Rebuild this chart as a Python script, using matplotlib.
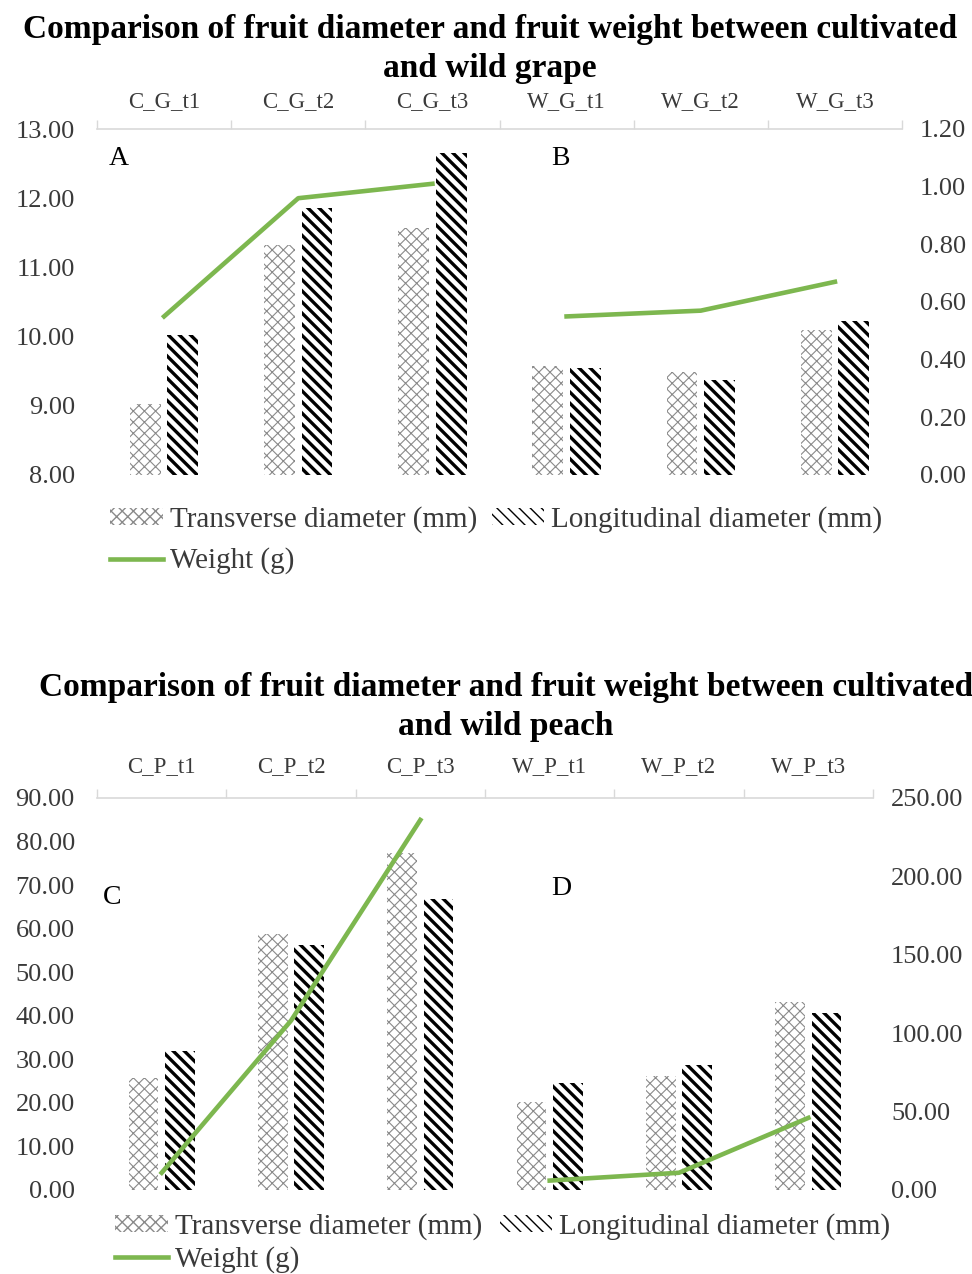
import matplotlib.pyplot as plt
import numpy as np

plt.rcParams['font.family'] = ['Liberation Serif', 'DejaVu Serif']

# grape panel (A: cultivated, B: wild)
grape_cats = ['C_G_t1', 'C_G_t2', 'C_G_t3', 'W_G_t1', 'W_G_t2', 'W_G_t3']
grape_trans = [9.03, 11.33, 11.57, 9.57, 9.49, 10.10]
grape_long = [10.02, 11.86, 12.65, 9.55, 9.37, 10.22]
grape_w_cult = [0.55, 0.96, 1.01]
grape_w_wild = [0.55, 0.57, 0.67]

# peach panel (C: cultivated, D: wild)
peach_cats = ['C_P_t1', 'C_P_t2', 'C_P_t3', 'W_P_t1', 'W_P_t2', 'W_P_t3']
peach_trans = [25.8, 58.8, 77.3, 20.3, 26.2, 43.1]
peach_long = [31.8, 56.2, 66.8, 24.6, 28.8, 40.6]
peach_w_cult = [11, 108, 236]
peach_w_wild = [6, 11, 46]

GREEN = '#7db74f'
GRID = '#d9d9d9'
TXT = '#3a3a3a'
W, H = 972, 1274


def set_hatch_lw(patches, lw):
    for p in patches:
        if hasattr(p, 'set_hatch_linewidth'):
            p.set_hatch_linewidth(lw)


def draw_panel(fig, rect, cats, trans, longi, w_cult, w_wild,
               yticks, yticks2, letters, cat_pad):
    ax = fig.add_axes(rect)
    x = np.arange(len(cats))
    b1 = ax.bar(x - 0.14, trans, 0.23, color='white', edgecolor='#8a8a8a',
                hatch='xxx', linewidth=0, label='Transverse diameter (mm)')
    b2 = ax.bar(x + 0.14, longi, 0.23, color='white', edgecolor='black',
                hatch='\\\\\\', linewidth=0, label='Longitudinal diameter (mm)')
    set_hatch_lw(b1, 0.8)
    set_hatch_lw(b2, 2.4)

    ax2 = ax.twinx()
    line, = ax2.plot(x[:3], w_cult, color=GREEN, lw=3.3, label='Weight (g)')
    ax2.plot(x[3:], w_wild, color=GREEN, lw=3.3)

    ax.set_xlim(-0.5, len(cats) - 0.5)
    ax.set_ylim(yticks[0], yticks[-1])
    ax2.set_ylim(yticks2[0], yticks2[-1])
    ax.set_yticks(yticks)
    ax.set_yticklabels([f'{v:.2f}' for v in yticks])
    ax2.set_yticks(yticks2)
    ax2.set_yticklabels([f'{v:.2f}' for v in yticks2])

    for a in (ax, ax2):
        for s in ('left', 'right', 'bottom', 'top'):
            a.spines[s].set_visible(False)
    ax.spines['top'].set_visible(True)
    ax.spines['top'].set_color(GRID)
    ax.spines['top'].set_linewidth(1.2)

    ax.xaxis.tick_top()
    ax.set_xticks(x)
    ax.set_xticklabels(cats)
    ax.set_xticks(np.arange(-0.5, len(cats), 1), minor=True)
    ax.tick_params(axis='x', which='major', length=0, pad=cat_pad,
                   labelsize=16.5, labelcolor=TXT)
    ax.tick_params(axis='x', which='minor', length=6.5, width=1, color=GRID)
    ax.tick_params(axis='y', length=0, pad=16, labelsize=19, labelcolor=TXT)
    ax2.tick_params(axis='y', length=0, pad=13, labelsize=19, labelcolor=TXT)

    for txt, lx, ly in letters:
        ax.text(lx, ly, txt, transform=ax.transAxes, fontsize=20,
                ha='left', va='center', color='black')
    return b1, b2, line


fig = plt.figure(figsize=(W / 100, H / 100), dpi=100)

# top figure: grape
fig.text(490 / W, 1 - 49 / H,
         'Comparison of fruit diameter and fruit weight between cultivated\nand wild grape',
         ha='center', va='center', fontsize=24, fontweight='bold', linespacing=1.32)
b1, b2, line = draw_panel(
    fig, [97 / W, 1 - 475 / H, 805 / W, 346 / H],
    grape_cats, grape_trans, grape_long, grape_w_cult, grape_w_wild,
    [8, 9, 10, 11, 12, 13], [0, 0.2, 0.4, 0.6, 0.8, 1.0, 1.2],
    [('A', 0.014, 0.916), ('B', 0.564, 0.916)], cat_pad=12)
fig.legend([b1, line, b2],
           ['Transverse diameter (mm)', 'Weight (g)', 'Longitudinal diameter (mm)'],
           ncol=2, loc='upper left', bbox_to_anchor=(110 / W, 1 - 506 / H),
           frameon=False, fontsize=21, handlelength=1.8, handleheight=0.55,
           handletextpad=0.25, columnspacing=0.5, labelspacing=0.5,
           borderpad=0, borderaxespad=0, labelcolor=TXT)

# bottom figure: peach
fig.text(506 / W, 1 - 707 / H,
         'Comparison of fruit diameter and fruit weight between cultivated\nand wild peach',
         ha='center', va='center', fontsize=24, fontweight='bold', linespacing=1.32)
b1, b2, line = draw_panel(
    fig, [97 / W, 1 - 1190 / H, 776 / W, 392 / H],
    peach_cats, peach_trans, peach_long, peach_w_cult, peach_w_wild,
    list(range(0, 91, 10)), list(range(0, 251, 50)),
    [('C', 0.008, 0.747), ('D', 0.585, 0.77)], cat_pad=15)
fig.legend([b1, line, b2],
           ['Transverse diameter (mm)', 'Weight (g)', 'Longitudinal diameter (mm)'],
           ncol=2, loc='upper left', bbox_to_anchor=(115 / W, 1 - 1213 / H),
           frameon=False, fontsize=21, handlelength=1.8, handleheight=0.55,
           handletextpad=0.25, columnspacing=0.6, labelspacing=0.22,
           borderpad=0, borderaxespad=0, labelcolor=TXT)

fig.savefig('out.png', dpi=100)
